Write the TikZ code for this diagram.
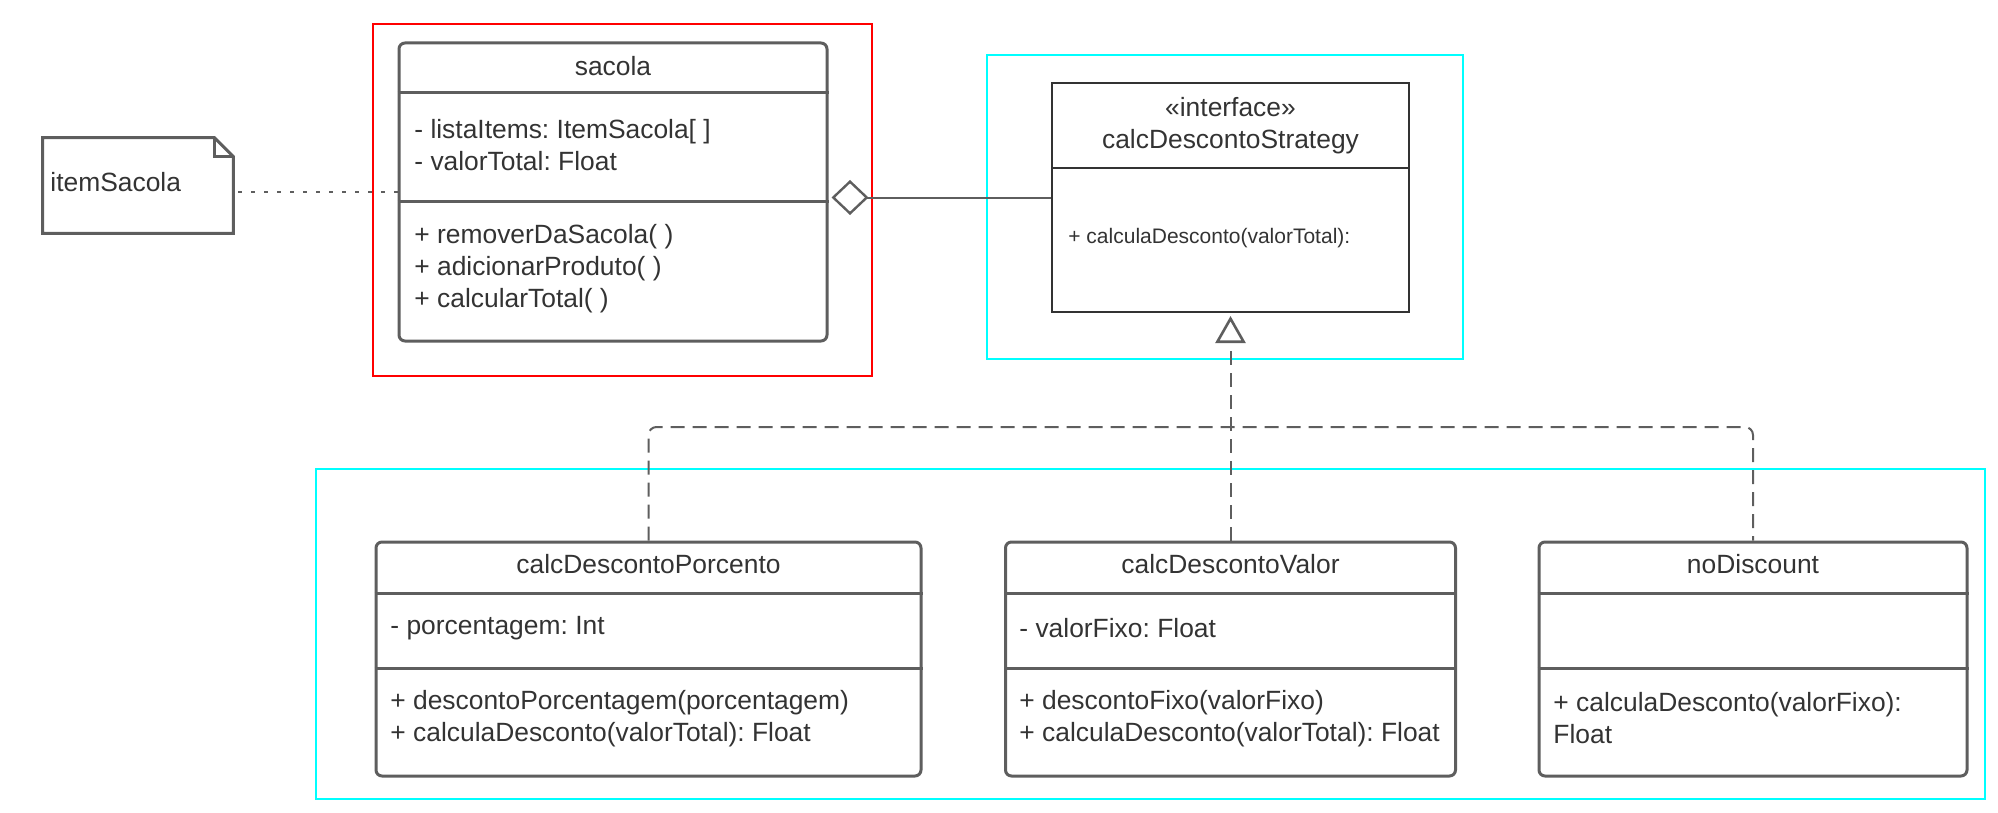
\documentclass[tikz,border=0pt]{standalone}
\usepackage{fontspec}
\setmainfont{Liberation Sans}
\frenchspacing
\definecolor{umlgray}{RGB}{94, 94, 94}
\definecolor{umldark}{RGB}{51, 51, 51}
\definecolor{groupred}{RGB}{255, 0, 0}
\definecolor{groupcyan}{RGB}{0, 255, 255}
\usetikzlibrary{
    arrows.meta,
    positioning,
    calc
}
\tikzset{
    classbox/.style={draw=umlgray, line width=1.5pt, rounded corners=3pt, inner sep=0pt},
    ifacebox/.style={draw=umldark, line width=1pt, inner sep=0pt},
    umltext/.style={font=\fontsize{13.2}{16}\selectfont, text=umldark, align=left, inner sep=0pt},
    sepline/.style={draw=umlgray, line width=1.5pt},
    grouprect/.style={line width=1.3pt},
    realize/.style={draw=umlgray, line width=1pt, dash pattern=on 7pt off 4pt}
}

\begin{document}
\begin{tikzpicture}[x=0.5pt, y=-0.5pt]
    \useasboundingbox (0,0) rectangle (1998,813);

    % Group frames
    \draw[grouprect, draw=groupred] (373,24) rectangle (872,376);
    \draw[grouprect, draw=groupcyan] (987,55) rectangle (1463,359);
    \draw[grouprect, draw=groupcyan] (316,469) rectangle (1985,799);

    % Note itemSacola
    \node[minimum width=95pt, minimum height=47.5pt, inner sep=0pt] (note) at (138,185.5) {};
    \draw[draw=umlgray, line width=1.5pt, line join=miter]
        (note.north west) -- ([xshift=-9.5pt]note.north east) -- ([yshift=-9.5pt]note.north east)
        -- (note.south east) -- (note.south west) -- cycle;
    \draw[draw=umlgray, line width=1.2pt]
        ([xshift=-9.5pt]note.north east) |- ([yshift=-9.5pt]note.north east);
    \node[umltext, anchor=west] (notetxt) at (50,182) {itemSacola};

    % Class sacola
    \node[classbox, minimum width=214pt, minimum height=149pt] (sacola) at (613,192) {};
    \draw[sepline] (sacola.west |- 0,93) -- (sacola.east |- 0,93);
    \draw[sepline] (sacola.west |- 0,201) -- (sacola.east |- 0,201);
    \node[umltext] (sacolaname) at (613,66) {sacola};
    \node[umltext, anchor=west] (sacolaattr) at (414,145) {- listaItems: ItemSacola[ ]\\- valorTotal: Float};
    \node[umltext, anchor=west] (sacolaops) at (414,269) {+ removerDaSacola( )\\+ adicionarProduto( )\\+ calcularTotal( )};

    % Interface calcDescontoStrategy
    \node[ifacebox, minimum width=178.5pt, minimum height=114.5pt] (iface) at (1230.5,197.5) {};
    \draw[draw=umldark, line width=1pt] (iface.west |- 0,168) -- (iface.east |- 0,168);
    \node[umltext, align=center] (ifacename) at (1230.5,126) {«interface»\\calcDescontoStrategy};
    \node[umltext, font=\fontsize{10.5}{13}\selectfont, anchor=west] (ifaceops) at (1068,238) {+ calculaDesconto(valorTotal):};

    % Class calcDescontoPorcento
    \node[classbox, minimum width=272.5pt, minimum height=117pt] (porcento) at (648.5,659) {};
    \draw[sepline] (porcento.west |- 0,593) -- (porcento.east |- 0,593);
    \draw[sepline] (porcento.west |- 0,668) -- (porcento.east |- 0,668);
    \node[umltext] (porcentoname) at (648.5,564) {calcDescontoPorcento};
    \node[umltext, anchor=west] (porcentoattr) at (390,628) {- porcentagem: Int};
    \node[umltext, anchor=west] (porcentoops) at (390,718.5) {+ descontoPorcentagem(porcentagem)\\+ calculaDesconto(valorTotal): Float};

    % Class calcDescontoValor
    \node[classbox, minimum width=225pt, minimum height=117pt] (valor) at (1230.5,659) {};
    \draw[sepline] (valor.west |- 0,593) -- (valor.east |- 0,593);
    \draw[sepline] (valor.west |- 0,668) -- (valor.east |- 0,668);
    \node[umltext] (valorname) at (1230.5,564) {calcDescontoValor};
    \node[umltext, anchor=west] (valorattr) at (1019,628) {- valorFixo: Float};
    \node[umltext, anchor=west] (valorops) at (1019,718.5) {+ descontoFixo(valorFixo)\\+ calculaDesconto(valorTotal): Float};

    % Class noDiscount
    \node[classbox, minimum width=214pt, minimum height=117pt] (nodisc) at (1753,659) {};
    \draw[sepline] (nodisc.west |- 0,593) -- (nodisc.east |- 0,593);
    \draw[sepline] (nodisc.west |- 0,668) -- (nodisc.east |- 0,668);
    \node[umltext] (noname) at (1753,564) {noDiscount};
    \node[umltext, anchor=west] (noops) at (1553,718.5) {+ calculaDesconto(valorFixo):\\Float};

    % Connectors
    \draw[draw=umlgray, line width=1pt, dash pattern=on 2pt off 4.5pt]
        (sacola.west) -- (sacola.west -| note.east);
    \draw[draw=umlgray, line width=1pt, shorten >=1.5pt,
        -{Diamond[open, length=18.5pt, width=17.5pt, line width=1.2pt]}]
        (iface.west) -- (iface.west -| sacola.east);
    \coordinate (bar) at (1230.5,427);
    \draw[realize, rounded corners=4pt]
        (porcento.north) -- (porcento.north |- bar) -- (nodisc.north |- bar) -- (nodisc.north);
    \draw[realize, shorten >=1.5pt,
        -{Triangle[open, fill=white, length=13.5pt, width=15pt, line width=1.3pt]}]
        (valor.north) -- (iface.south);
\end{tikzpicture}
\end{document}
